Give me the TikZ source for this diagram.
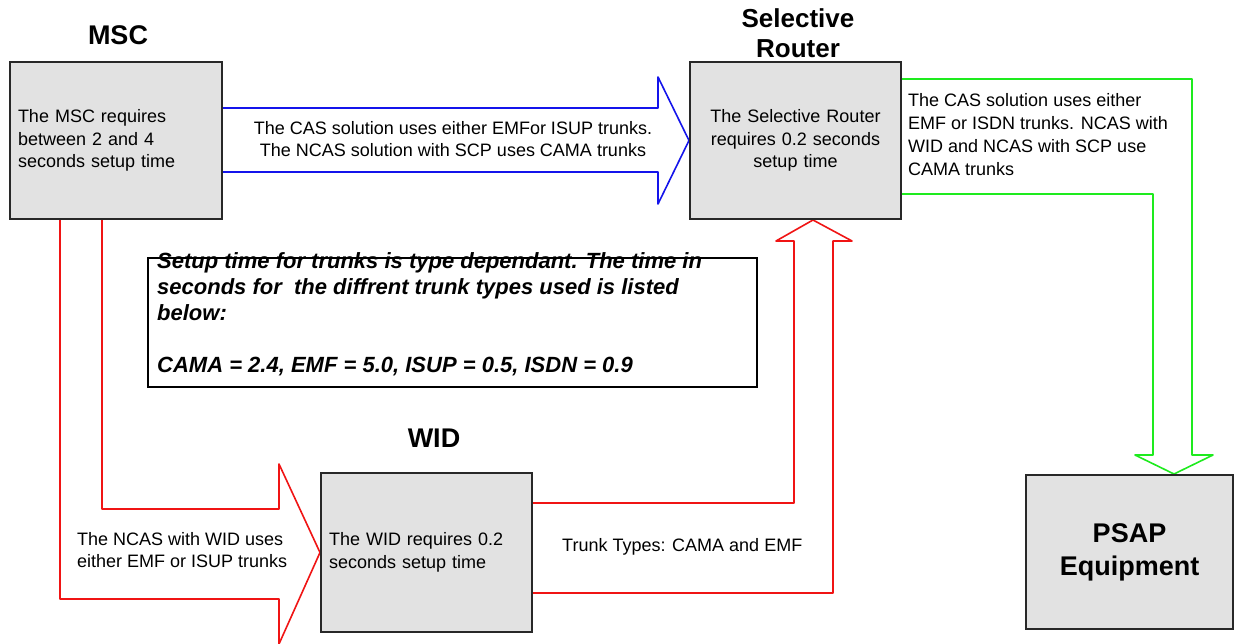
\documentclass[tikz,border=0pt]{standalone}
\usepackage{fontspec}
\setmainfont{Liberation Sans}
\usetikzlibrary{calc,backgrounds}
\definecolor{boxfill}{RGB}{226,226,226}
\definecolor{boxline}{RGB}{40,40,40}
\definecolor{arrblue}{RGB}{20,20,235}
\definecolor{arrred}{RGB}{240,20,20}
\definecolor{arrgreen}{RGB}{30,235,30}
\begin{document}
\begin{tikzpicture}[x=1pt,y=-1pt,
  box/.style={draw=boxline, fill=boxfill, line width=2pt, inner xsep=8pt, inner ysep=0pt,
    font=\fontsize{18}{22.5}\selectfont},
  title/.style={font=\fontsize{27}{30}\selectfont\bfseries, align=center, inner sep=0pt},
  lbl/.style={font=\fontsize{18}{22.5}\selectfont, inner sep=0pt},
  blockarrow/.style={line width=1.6pt, line join=round}]

\path[use as bounding box] (0,0) rectangle (1235,644);

% boxes
\node[box, minimum width=212pt, minimum height=157pt, text width=196pt, align=left] (msc) at (116,140.5)
  {The MSC requires\\between 2 and 4\\seconds setup time};
\node[box, minimum width=211pt, minimum height=157pt, text width=195pt, align=center] (sr) at (795.5,140.5)
  {The Selective Router\\requires 0.2 seconds\\setup time};
\node[box, minimum width=211pt, minimum height=159pt, text width=195pt, align=left] (wid) at (426.5,552.5)
  {The WID requires 0.2\\seconds setup time};
\node[box, minimum width=207pt, minimum height=154pt, text width=191pt, align=center,
  font=\fontsize{27}{33}\selectfont\bfseries] (psap) at (1129.5,552) {PSAP\\Equipment};

% note
\node[draw=black, line width=1.5pt, minimum width=609pt, minimum height=129pt, inner sep=0pt] (note) at (452.5,322.5) {};
\node[anchor=north west, inner sep=0pt, align=left, font=\fontsize{22}{26}\selectfont\bfseries\itshape] (notetext) at (157,252)
  {Setup time for trunks is type dependant. The time in\\seconds for\ \ the diffrent trunk types used is listed\\below:\\[26pt]CAMA = 2.4, EMF = 5.0, ISUP = 0.5, ISDN = 0.9};

% titles
\node[title] (msctitle) at (118,35) {MSC};
\node[title, font=\fontsize{26}{30}\selectfont\bfseries] (srtitle) at (798,33) {Selective\\Router};
\node[title] (widtitle) at (434,438) {WID};

% labels
\node[lbl, align=center] (bluelbl) at (453,139)
  {The CAS solution uses either EMFor ISUP trunks.\\The NCAS solution with SCP uses CAMA trunks};
\node[lbl, align=left, anchor=north west, font=\fontsize{18}{23}\selectfont] (greenlbl) at (908,93)
  {The CAS solution uses either\\EMF or ISDN trunks. NCAS with\\WID and NCAS with SCP use\\CAMA trunks};
\node[lbl, align=left, anchor=west] (ncaslbl) at (77,550) {The NCAS with WID uses\\either EMF or ISUP trunks};
\node[lbl, anchor=west] (trunklbl) at (562,547) {Trunk Types: CAMA and EMF};

\begin{pgfonlayer}{background}
\fill[white] (0,0) rectangle (1235,644);
% MSC -> SR (blue)
\draw[blockarrow, draw=arrblue] ($(msc.east)+(0,-32.5)$) -- (658,108) -- (658,77) -- (sr.west)
  -- (658,204) -- (658,172) -- ($(msc.east)+(0,31.5)$);
% SR -> PSAP (green)
\draw[blockarrow, draw=arrgreen] ($(sr.east)+(0,-61.5)$) -- (1192,79) -- (1192,455) -- (1213,455)
  -- ($(psap.north)+(44.5,0)$) -- (1135,455) -- (1153,455) -- (1153,194) -- ($(sr.east)+(0,53.5)$);
% MSC -> WID (red)
\draw[blockarrow, draw=arrred] ($(msc.south)+(-56,0)$) -- (60,599) -- (279,599) -- (279,644)
  -- (wid.west) -- (279,464) -- (279,509) -- (102,509) -- ($(msc.south)+(-14,0)$);
% WID -> SR (red)
\draw[blockarrow, draw=arrred] ($(wid.east)+(0,40.5)$) -- (833,593) -- (833,241) -- (852,241)
  -- ($(sr.south)+(17.5,0)$) -- (776,241) -- (794,241) -- (794,503) -- ($(wid.east)+(0,-49.5)$);
\end{pgfonlayer}
\end{tikzpicture}
\end{document}
